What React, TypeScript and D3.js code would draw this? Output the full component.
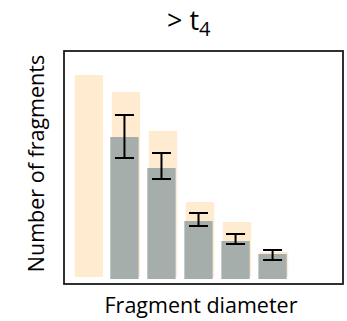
import React from 'react'
import * as d3 from 'd3'

// bins of fragment diameter (smallest first)
const bins = ['1', '2', '3', '4', '5', '6']
// counts before the step (orange, behind)
const before = [202, 185, 146, 75, 55, 25]
// counts after the step (grey) with error bar ends
const after = [0, 142, 111, 58, 38, 25]
const errLow = [null, 121, 100, 53, 35, 19]
const errHigh = [null, 164, 126, 66, 45, 29]

export default function App() {
  const width = 347
  const height = 321
  const box = { left: 64, top: 51, right: 343, bottom: 284 }
  const font = '"Open Sans", "Noto Sans", sans-serif'

  const x = d3.scaleBand<string>()
    .domain(bins)
    .range([box.left, 296])
    .paddingInner(0.235)
    .paddingOuter(0.25)

  const y = d3.scaleLinear()
    .domain([0, 230])
    .range([279, 49])

  const bw = x.bandwidth()
  const cap = 19

  return (
    <svg width={width} height={height} style={{ position: 'absolute', left: 0, top: 0 }}>
      <rect x={0} y={0} width={width} height={height} fill="#fff" />
      <g transform="translate(1.5,-2)">
        {bins.map((b, i) => (
          <rect key={'o' + b} x={x(b)} y={y(before[i])} width={bw}
            height={y(0) - y(before[i])} fill="#ffebcf" />
        ))}
      </g>
      {bins.map((b, i) => after[i] > 0 && (
        <rect key={'g' + b} x={x(b)} y={y(after[i])} width={bw}
          height={y(0) - y(after[i])} fill="#a6aeab" />
      ))}
      {bins.map((b, i) => {
        if (errLow[i] == null) return null
        const cx = (x(b) as number) + bw / 2
        return (
          <g key={'e' + b} stroke="#000" strokeWidth={2}>
            <line x1={cx} x2={cx} y1={y(errLow[i] as number)} y2={y(errHigh[i] as number)} />
            <line x1={cx - cap / 2} x2={cx + cap / 2} y1={y(errLow[i] as number)} y2={y(errLow[i] as number)} />
            <line x1={cx - cap / 2} x2={cx + cap / 2} y1={y(errHigh[i] as number)} y2={y(errHigh[i] as number)} />
          </g>
        )
      })}
      <rect x={box.left} y={box.top} width={box.right - box.left} height={box.bottom - box.top}
        fill="none" stroke="#1a1a1a" strokeWidth={1.8} />
      <text x={167} y={30} fontFamily={font} fontSize={27} fill="#000">
        {'> t'}
        <tspan fontSize={20} dy={6}>4</tspan>
      </text>
      <text transform={`translate(44,${(box.top + box.bottom) / 2 - 4}) rotate(-90)`} textAnchor="middle"
        fontFamily={font} fontSize={21.5} fill="#000">Number of fragments</text>
      <text x={201} y={313} textAnchor="middle" fontFamily={font} fontSize={21.5} fill="#000">Fragment diameter</text>
    </svg>
  )
}
